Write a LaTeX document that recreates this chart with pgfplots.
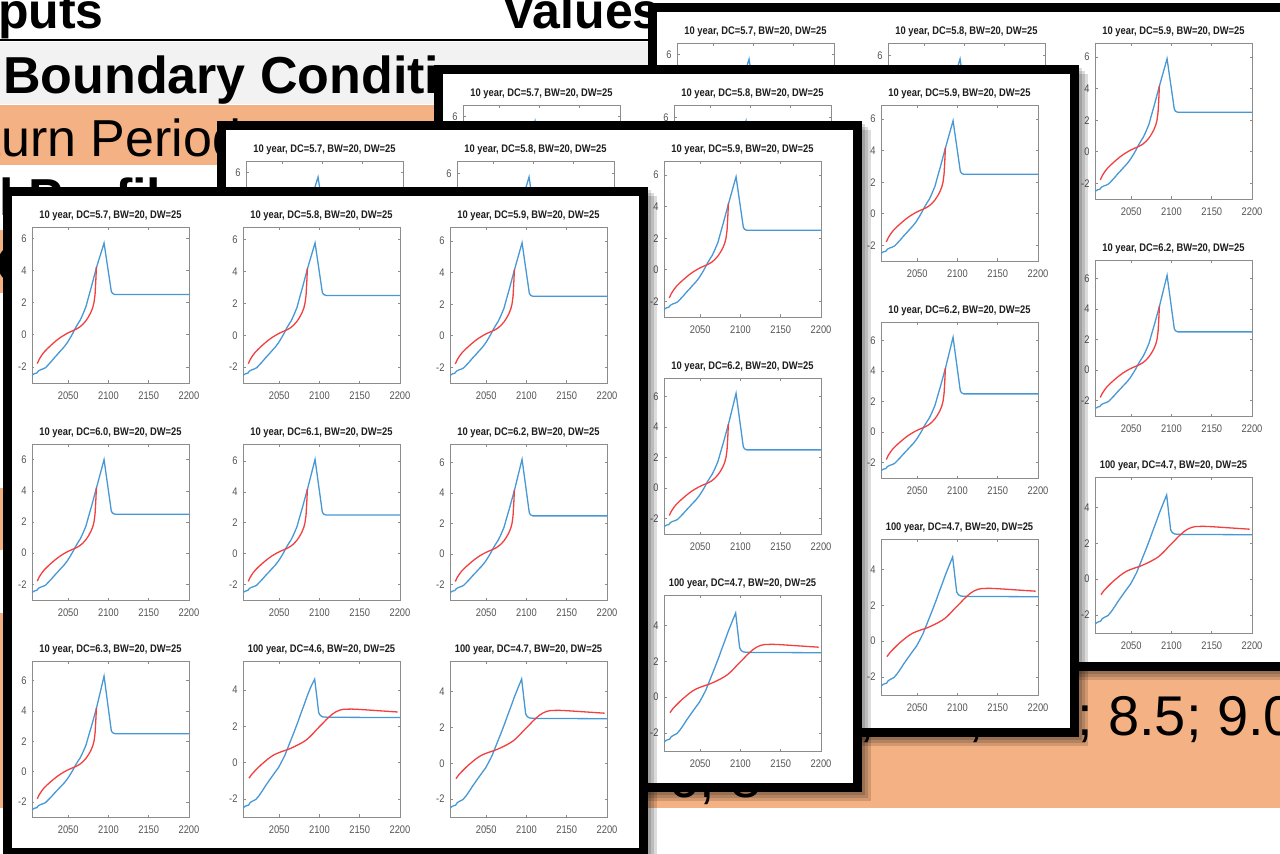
\documentclass[border=0pt]{standalone}
\usepackage{fontspec}
\setmainfont{Liberation Sans}
\newfontfamily\narrow[FakeStretch=0.85]{Liberation Sans}
\usepackage{pgfplots}
\pgfplotsset{compat=1.18}
\definecolor{orangebg}{RGB}{244,177,131}
\definecolor{graybg}{RGB}{242,242,242}
\definecolor{axgray}{RGB}{140,140,140}
\definecolor{labgray}{RGB}{85,85,85}
\definecolor{mblue}{RGB}{72,152,214}
\definecolor{mred}{RGB}{242,64,64}
\definecolor{ttl}{RGB}{30,30,30}
\pgfplotsset{
  mini/.style={scale only axis, width=157pt, height=156pt, anchor=north west,
    xmin=2005, xmax=2200, ymin=-3,
    axis line style={draw=axgray, line width=0.8pt},
    tick style={draw=axgray, line width=0.6pt},
    tick align=inside, major tick length=2.5pt,
    xtick={2050,2100,2150,2200}, xticklabels={2050,2100,2150,2200},
    tick label style={font=\narrow\fontsize{11}{13}\selectfont, text=labgray},
    xticklabel style={yshift=-5pt}, yticklabel style={xshift=-2pt},
    title style={font=\narrow\bfseries\fontsize{11}{13}\selectfont, text=ttl, yshift=-3pt},
    axis background/.style={fill=white}},
  bl/.style={color=mblue, line width=1.3pt, mark=none},
  rd/.style={color=mred, line width=1.3pt, mark=none}}

\newcommand{\tenax}[3]{%
  \pgfmathsetmacro{\ymx}{#3+1}%
  \begin{axis}[mini, at={(#1 pt,-#2 pt)}, ymax=\ymx, ytick={-2,0,2,4,6}, yticklabels={-2,0,2,4,6},
    title={10 year, DC=#3, BW=20, DW=25}]
  \addplot[bl] coordinates {(2005,-2.52) (2008,-2.42) (2011,-2.38) (2013,-2.25) (2016,-2.17) (2019,-2.12) (2022,-2.04) (2025,-1.88) (2029,-1.66) (2033,-1.42) (2037,-1.2) (2041,-0.97) (2045,-0.75) (2049,-0.48) (2053,-0.15) (2056,0.12) (2059,0.42) (2062,0.68) (2065,0.92) (2068,1.25) (2072,1.74) (2075,2.3) (2079,3.02) (2082,3.6) (2085,4.17) (2094.5,#3) (2103.5,2.7) (2105,2.57) (2108,2.5) (2200,2.5)};
  \addplot[rd] coordinates {(2011.6,-1.79) (2014,-1.52) (2017,-1.28) (2020,-1.08) (2024,-0.87) (2028,-0.68) (2032,-0.5) (2036,-0.33) (2040,-0.18) (2044,-0.05) (2048,0.07) (2052,0.17) (2056,0.26) (2060,0.35) (2064,0.47) (2068,0.64) (2072,0.87) (2075,1.1) (2078,1.38) (2080.5,1.7) (2082,2.0) (2083.3,2.5) (2084.2,3.3) (2085,4.2)};
  \end{axis}}

\newcommand{\hunax}[3]{%
  \pgfmathsetmacro{\ymx}{#3+1}%
  \begin{axis}[mini, at={(#1 pt,-#2 pt)}, ymax=\ymx, ytick={-2,0,2,4}, yticklabels={-2,0,2,4},
    title={100 year, DC=#3, BW=20, DW=25}]
  \addplot[bl] coordinates {(2005,-2.5) (2008,-2.4) (2012,-2.34) (2014,-2.2) (2017,-2.12) (2021,-2.03) (2025,-1.82) (2029,-1.56) (2033,-1.28) (2037,-1.02) (2041,-0.77) (2045,-0.52) (2049,-0.28) (2053,0.05) (2057,0.4) (2061,0.85) (2065,1.3) (2069,1.75) (2073,2.22) (2077,2.72) (2081,3.2) (2085,3.7) (2089,4.15) (2094,#3) (2096.5,3.7) (2099,2.75) (2101,2.6) (2104,2.52) (2110,2.5) (2200,2.48)};
  \addplot[rd] coordinates {(2012.4,-0.86) (2016,-0.64) (2020,-0.45) (2024,-0.27) (2028,-0.1) (2032,0.05) (2036,0.2) (2040,0.33) (2044,0.44) (2048,0.52) (2052,0.59) (2056,0.65) (2060,0.71) (2064,0.78) (2068,0.86) (2072,0.95) (2076,1.04) (2080,1.14) (2084,1.26) (2088,1.42) (2092,1.6) (2096,1.8) (2100,1.98) (2104,2.16) (2108,2.35) (2112,2.52) (2116,2.67) (2120,2.79) (2125,2.89) (2130,2.94) (2140,2.95) (2150,2.93) (2160,2.9) (2170,2.87) (2180,2.84) (2190,2.81) (2197,2.79)};
  \end{axis}}

\newcommand{\sheet}[3]{%
  \pgfmathsetmacro{\cxa}{#1+29}\pgfmathsetmacro{\cxb}{#1+240}\pgfmathsetmacro{\cxc}{#1+447}%
  \pgfmathsetmacro{\rya}{#2+40}\pgfmathsetmacro{\ryb}{#2+257}\pgfmathsetmacro{\ryc}{#2+474}%
  \begin{scope}[x=1pt,y=-1pt]
    \foreach \k in {3,6,9} {\fill[black,opacity=0.14] ({#1+\k},{#2+\k}) rectangle ++(645,#3);}
    \fill[black] (#1,#2) rectangle ++(645,#3);
    \fill[white] ({#1+9},{#2+9}) rectangle ({#1+636},{#2+#3-9});
  \end{scope}
  \tenax{\cxa}{\rya}{5.7}\tenax{\cxb}{\rya}{5.8}\tenax{\cxc}{\rya}{5.9}%
  \tenax{\cxa}{\ryb}{6.0}\tenax{\cxb}{\ryb}{6.1}\tenax{\cxc}{\ryb}{6.2}%
  \tenax{\cxa}{\ryc}{6.3}\hunax{\cxb}{\ryc}{4.6}\hunax{\cxc}{\ryc}{4.7}}

\begin{document}
\begin{tikzpicture}
\useasboundingbox (0pt,0pt) rectangle (1280pt,-854pt);
\clip (0pt,0pt) rectangle (1280pt,-854pt);
\begin{scope}[x=1pt,y=-1pt]
  \fill[white] (0,0) rectangle (1280,854);
  \node[anchor=base west, inner sep=0, font=\bfseries\fontsize{50}{60}\selectfont] at (-2,28) {puts};
  \node[anchor=base west, inner sep=0, font=\bfseries\fontsize{50}{60}\selectfont] at (502,28) {Values};
  \draw[line width=2pt] (0,40) -- (700,40);
  \fill[graybg] (0,42) rectangle (1280,104);
  \node[anchor=base west, inner sep=0, font=\bfseries\fontsize{52}{60}\selectfont] at (3,93) {Boundary Conditions};
  \fill[orangebg] (0,105) rectangle (1280,165);
  \node[anchor=base west, inner sep=0, font=\fontsize{52}{60}\selectfont] at (-80,156) {Return Period};
  \node[anchor=base west, inner sep=0, font=\bfseries\fontsize{52}{60}\selectfont] at (-122,215) {Initial Profile};
  \fill[orangebg] (0,230) rectangle (1280,293);
  \node[anchor=base west, inner sep=0, font=\bfseries\fontsize{52}{60}\selectfont] at (-4,282) {Crest};
  \fill[orangebg] (0,488) rectangle (1280,550);
  \fill[orangebg] (0,613) rectangle (1280,808);
  \node[anchor=base east, inner sep=0, font=\fontsize{56}{64}\selectfont] at (1093,735) {6.5; 7.0; 7.5; 8.0;};
  \node[anchor=base west, inner sep=0, font=\fontsize{56}{64}\selectfont] at (1108,735) {8.5; 9.0};
  \node[anchor=base east, inner sep=0, font=\fontsize{56}{64}\selectfont] at (762,797) {2, 4, 6, 8};
\end{scope}
\sheet{648}{3}{668}
\sheet{434}{65}{672}
\sheet{217}{121}{671}
\sheet{3}{187}{670}
\end{tikzpicture}
\end{document}
